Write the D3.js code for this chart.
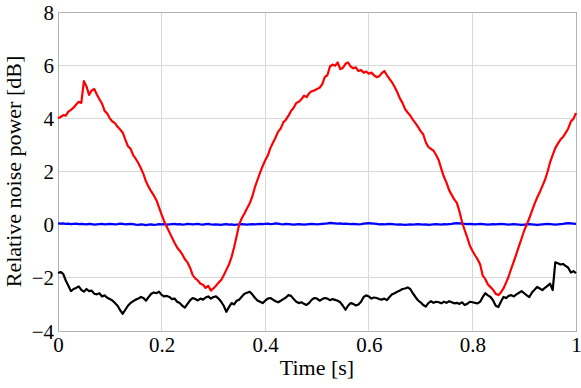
<!DOCTYPE html>
<html>
<head>
<meta charset="utf-8">
<script src="https://cdn.jsdelivr.net/npm/d3@7"></script>
<style>
  html, body { margin: 0; padding: 0; background: #fff; }
  svg { display: block; }
  text { font-family: "Liberation Serif", "Times New Roman", serif; fill: #000; }
</style>
</head>
<body>
<svg id="chart" width="581" height="388"></svg>
<script>
// ---- data (sampled every 0.005 s, 201 samples) ----
const xTicks = [0, 0.2, 0.4, 0.6, 0.8, 1];
const yTicks = [-4, -2, 0, 2, 4, 6, 8];
const xLabel = "Time [s]";
const yLabel = "Relative noise power [dB]";

const redSeries = [
 4.00,4.05,4.12,4.10,4.25,4.32,4.40,4.52,4.62,4.58,
 5.40,5.20,4.88,5.05,5.10,4.90,4.72,4.55,4.28,4.18,
 4.00,3.88,3.82,3.68,3.58,3.46,3.20,2.95,2.86,2.62,
 2.48,2.32,2.12,1.90,1.62,1.42,1.25,1.10,0.92,0.65,
 0.38,0.12,-0.08,-0.28,-0.48,-0.68,-0.86,-0.98,-1.12,-1.30,
 -1.42,-1.62,-1.90,-2.02,-2.10,-2.22,-2.26,-2.38,-2.30,-2.48,
 -2.40,-2.30,-2.18,-2.08,-1.90,-1.70,-1.50,-1.22,-0.85,-0.42,
 0.02,0.25,0.42,0.62,0.80,1.05,1.40,1.68,1.95,2.20,
 2.42,2.60,2.88,3.08,3.28,3.50,3.62,3.85,3.95,4.10,
 4.28,4.40,4.58,4.62,4.72,4.85,4.80,4.95,5.02,5.05,
 5.10,5.15,5.28,5.55,5.62,5.95,6.02,5.98,6.10,5.85,
 5.90,6.05,6.10,5.95,5.88,5.92,5.78,5.82,5.72,5.76,
 5.68,5.72,5.62,5.55,5.58,5.70,5.78,5.62,5.48,5.35,
 5.18,4.98,4.75,4.58,4.35,4.22,4.10,3.95,3.82,3.68,
 3.52,3.40,3.10,2.92,2.85,2.78,2.62,2.42,2.10,1.80,
 1.58,1.30,1.12,0.95,0.82,0.50,0.10,-0.20,-0.48,-0.78,
 -0.98,-1.15,-1.30,-1.50,-1.92,-2.05,-2.25,-2.35,-2.45,-2.60,
 -2.65,-2.55,-2.40,-2.18,-1.95,-1.65,-1.38,-1.10,-0.80,-0.52,
 -0.22,0.00,0.25,0.52,0.78,1.02,1.22,1.45,1.68,1.98,
 2.35,2.62,2.88,3.05,3.20,3.30,3.45,3.62,3.88,3.98,
 4.20
];

const blueSeries = [
 0.05,0.04,0.05,0.03,0.04,0.02,0.03,0.04,0.02,0.03,
 0.02,0.01,0.03,0.02,0.00,0.01,0.02,0.03,0.01,0.02,
 0.03,0.02,0.01,0.02,0.04,0.03,0.01,0.02,0.03,0.02,
 0.00,-0.01,0.01,0.00,-0.02,0.00,0.01,-0.01,0.00,0.02,
 0.01,0.02,0.00,0.01,0.02,0.03,0.01,0.02,0.00,0.01,
 0.03,0.02,0.01,0.02,0.03,0.01,0.00,0.02,0.03,0.01,
 0.00,0.01,0.00,-0.01,0.01,0.02,0.00,0.01,-0.01,0.00,
 0.01,0.02,0.01,0.00,0.01,0.02,0.01,0.02,0.03,0.02,
 0.03,0.04,0.02,0.03,0.05,0.04,0.02,0.01,0.03,0.02,
 0.01,0.00,0.01,0.02,0.01,0.00,0.01,0.02,0.03,0.02,
 0.01,0.02,0.03,0.04,0.05,0.07,0.06,0.05,0.04,0.05,
 0.03,0.04,0.03,0.02,0.03,0.02,0.01,0.02,0.04,0.05,
 0.06,0.05,0.04,0.03,0.01,0.02,0.01,0.02,0.03,0.02,
 0.01,0.00,0.01,0.00,-0.01,0.00,0.01,0.00,0.01,0.02,
 0.01,0.00,0.01,-0.01,0.00,0.01,0.02,0.01,0.00,0.02,
 0.01,0.02,0.03,0.05,0.06,0.05,0.04,0.03,0.02,0.03,
 0.02,0.01,0.02,0.03,0.02,0.01,0.00,0.01,0.02,0.01,
 0.02,0.03,0.02,0.01,0.00,0.01,0.02,0.01,0.00,-0.01,
 0.00,0.01,0.02,0.01,0.00,-0.01,0.00,0.01,0.02,0.03,
 0.02,0.01,0.00,0.01,0.02,0.03,0.05,0.06,0.05,0.04,
 0.03
];

const blackSeries = [
 -1.82,-1.78,-1.85,-2.10,-2.30,-2.50,-2.42,-2.38,-2.32,-2.45,
 -2.52,-2.42,-2.50,-2.48,-2.60,-2.62,-2.58,-2.70,-2.66,-2.75,
 -2.80,-2.85,-2.95,-3.05,-3.22,-3.35,-3.20,-3.05,-2.95,-2.88,
 -2.82,-2.78,-2.72,-2.76,-2.86,-2.72,-2.60,-2.55,-2.58,-2.52,
 -2.64,-2.70,-2.68,-2.72,-2.80,-2.78,-2.90,-2.95,-3.05,-3.12,
 -2.98,-2.85,-2.76,-2.80,-2.85,-2.78,-2.82,-2.74,-2.70,-2.78,
 -2.72,-2.70,-2.78,-2.90,-3.05,-3.28,-3.10,-2.95,-3.00,-2.86,
 -2.82,-2.70,-2.60,-2.56,-2.52,-2.62,-2.75,-2.85,-2.90,-2.95,
 -2.86,-2.78,-2.76,-2.82,-2.88,-2.92,-2.86,-2.80,-2.74,-2.65,
 -2.68,-2.80,-2.90,-2.95,-2.92,-2.98,-3.02,-2.94,-2.82,-2.76,
 -2.78,-2.86,-2.80,-2.76,-2.78,-2.84,-2.80,-2.83,-2.86,-2.92,
 -3.05,-3.20,-3.05,-2.95,-2.98,-3.04,-3.00,-2.90,-2.72,-2.66,
 -2.70,-2.78,-2.74,-2.76,-2.80,-2.82,-2.78,-2.84,-2.72,-2.62,
 -2.58,-2.52,-2.48,-2.42,-2.40,-2.36,-2.42,-2.58,-2.72,-2.85,
 -2.92,-3.02,-3.08,-2.95,-2.88,-2.94,-2.90,-2.92,-2.96,-2.90,
 -2.94,-2.88,-2.92,-2.96,-2.94,-2.98,-2.92,-3.02,-2.98,-2.90,
 -2.92,-2.94,-2.96,-2.90,-2.72,-2.58,-2.66,-2.72,-2.85,-3.05,
 -3.10,-2.90,-2.72,-2.76,-2.68,-2.65,-2.70,-2.62,-2.56,-2.50,
 -2.58,-2.66,-2.72,-2.55,-2.45,-2.34,-2.40,-2.46,-2.38,-2.30,
 -2.22,-2.46,-1.42,-1.45,-1.50,-1.48,-1.55,-1.62,-1.80,-1.75,
 -1.82
];

const sampleStep = 0.005;
const times = redSeries.map((_, i) => +(i * sampleStep).toFixed(3));

// ---- layout ----
const W = 581, H = 388;
const margin = { left: 58, right: 5, top: 12, bottom: 57 };
const iw = W - margin.left - margin.right;
const ih = H - margin.top - margin.bottom;

const svg = d3.select("#chart");
const g = svg.append("g").attr("transform", `translate(${margin.left},${margin.top})`);

const x = d3.scaleLinear().domain([0, 1]).range([0, iw]);
const y = d3.scaleLinear().domain([-4, 8]).range([ih, 0]);

const fmt = v => (v < 0 ? "\u2212" + Math.abs(v) : String(v));

// grid
g.append("g").selectAll("line").data(xTicks).join("line")
  .attr("x1", d => x(d)).attr("x2", d => x(d))
  .attr("y1", 0).attr("y2", ih)
  .attr("stroke", "#d9d9d9").attr("stroke-width", 1)
  .attr("shape-rendering", "crispEdges");
g.append("g").selectAll("line").data(yTicks).join("line")
  .attr("x1", 0).attr("x2", iw)
  .attr("y1", d => y(d)).attr("y2", d => y(d))
  .attr("stroke", "#d9d9d9").attr("stroke-width", 1)
  .attr("shape-rendering", "crispEdges");

// axes (labels only; frame drawn separately)
const xAxis = d3.axisBottom(x).tickValues(xTicks).tickSize(0).tickPadding(0)
  .tickFormat(d => d3.format("")(d));
const yAxis = d3.axisLeft(y).tickValues(yTicks).tickSize(0).tickPadding(4)
  .tickFormat(fmt);

const gx = g.append("g").attr("transform", `translate(0,${ih})`).call(xAxis);
gx.select(".domain").remove();
gx.selectAll("text").attr("font-size", 21).attr("fill", "#000")
  .attr("y", 21).attr("dy", 0);

const gy = g.append("g").call(yAxis);
gy.select(".domain").remove();
gy.selectAll("text").attr("font-size", 21).attr("fill", "#000")
  .attr("dy", "0.34em");

// frame
g.append("rect").attr("x", 0).attr("y", 0).attr("width", iw).attr("height", ih)
  .attr("fill", "none").attr("stroke", "#b3b3b3").attr("stroke-width", 1)
  .attr("shape-rendering", "crispEdges");

// lines
const line = d3.line().x((d, i) => x(times[i])).y(d => y(d));
const seriesList = [
  { values: blueSeries, color: "#0000ff" },
  { values: blackSeries, color: "#000000" },
  { values: redSeries, color: "#ff0000" }
];
g.append("g").selectAll("path").data(seriesList).join("path")
  .attr("d", d => line(d.values))
  .attr("fill", "none")
  .attr("stroke", d => d.color)
  .attr("stroke-width", 2.2)
  .attr("stroke-linejoin", "round");

// axis titles
svg.append("text")
  .attr("x", margin.left + iw / 2).attr("y", 375)
  .attr("text-anchor", "middle").attr("font-size", 22)
  .text(xLabel);
svg.append("text")
  .attr("transform", `translate(21,${margin.top + ih / 2}) rotate(-90)`)
  .attr("text-anchor", "middle").attr("font-size", 22)
  .text(yLabel);
</script>
</body>
</html>
